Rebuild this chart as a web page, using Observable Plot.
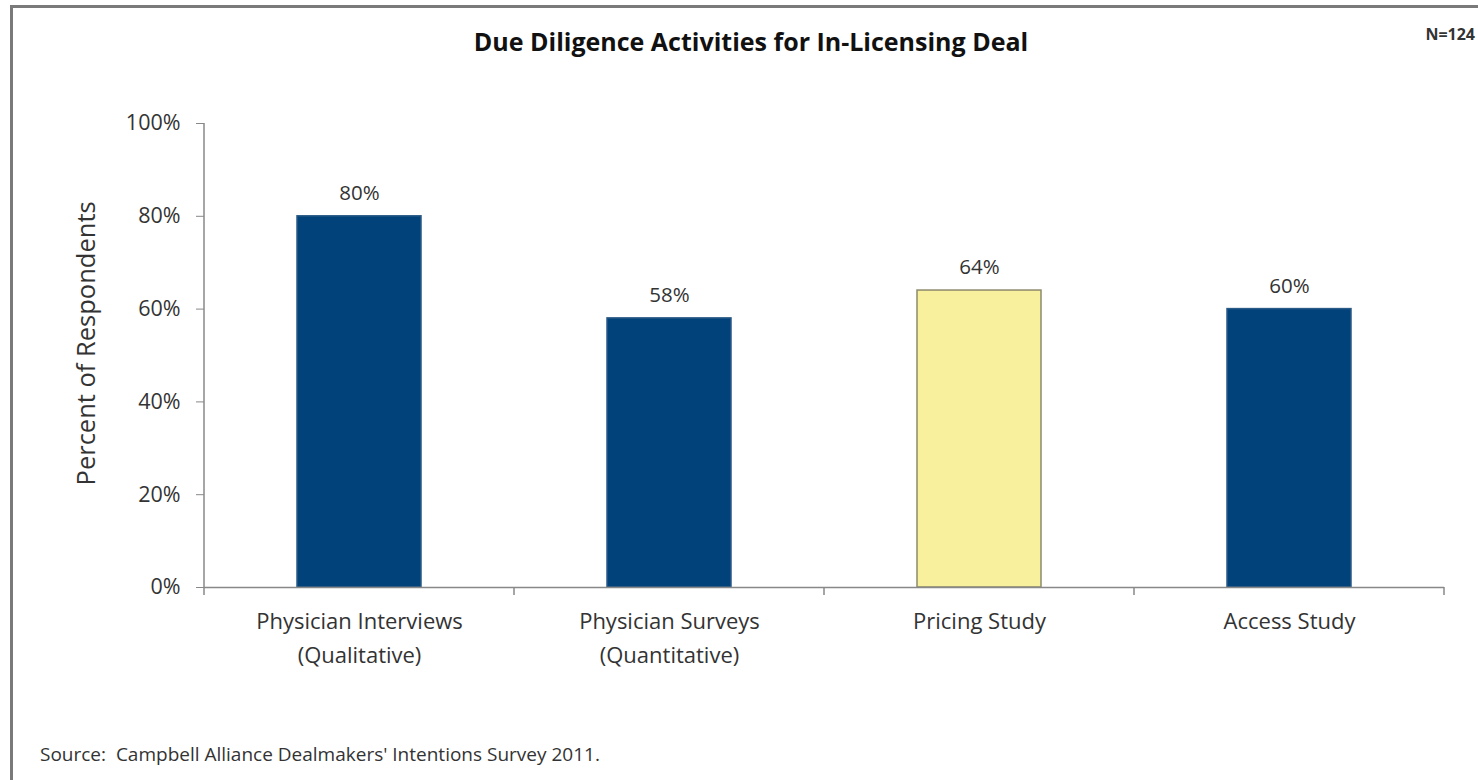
<!DOCTYPE html>
<html>
<head>
<meta charset="utf-8">
<script src="https://cdn.jsdelivr.net/npm/d3@7"></script>
<script src="https://cdn.jsdelivr.net/npm/@observablehq/plot@0.6"></script>
<style>
  html, body { margin: 0; padding: 0; background: #fff; }
  #chart { position: relative; width: 1478px; height: 780px; overflow: hidden; }
  #frame { position: absolute; left: 10px; top: 5px; width: 1500px; height: 800px;
           border: 3px solid #7a7a7a; box-sizing: border-box; pointer-events: none; }
  svg { font-family: "Open Sans", sans-serif; }
</style>
</head>
<body>
<div id="chart"><div id="frame"></div></div>
<script>
// Survey results: share of respondents using each due diligence activity
const activities = [
  "Physician Interviews\n(Qualitative)",
  "Physician Surveys\n(Quantitative)",
  "Pricing Study",
  "Access Study"
];
const shares = [80, 58, 64, 60];
const barFills = ["#02427a", "#02427a", "#f8f09d", "#02427a"];
const barStrokes = ["#2a5a86", "#2a5a86", "#8c8a6c", "#2a5a86"];
const yTicks = [0, 20, 40, 60, 80, 100];

const title = "Due Diligence Activities for In-Licensing Deal";
const sampleNote = "N=124";
const source = "Source:  Campbell Alliance Dealmakers' Intentions Survey 2011.";

const rows = activities.map((a, i) => ({
  activity: a, share: shares[i], fill: barFills[i], stroke: barStrokes[i]
}));

const plot = Plot.plot({
  width: 1478,
  height: 780,
  marginLeft: 204,
  marginRight: 34,
  marginTop: 123,
  marginBottom: 193,
  style: { fontFamily: "'Open Sans', sans-serif", color: "#333", background: "transparent" },
  x: { domain: activities, paddingInner: 0.6, paddingOuter: 0.3, label: null },
  y: { domain: [0, 100], label: null },
  marks: [
    Plot.barY(rows, {
      x: "activity", y: "share",
      fill: "fill", stroke: "stroke", strokeWidth: 1.5
    }),
    Plot.text(rows, {
      x: "activity", y: "share", text: d => d.share + "%",
      dy: -23, fontSize: 20.5, fill: "#333"
    }),
    Plot.ruleY([0], { stroke: "#888", strokeWidth: 1.5 }),
    Plot.axisY({
      ticks: yTicks, tickFormat: d => d + "%", tickSize: 8, tickPadding: 16,
      fontSize: 21.5, stroke: "#888", fill: "#333", label: null
    }),
    Plot.axisX({
      tickSize: 0, tickPadding: 17, fontSize: 22, fill: "#333", label: null,
      lineHeight: 1.55
    })
  ]
});

const svg = d3.select(plot);
const xs = plot.scale("x");
const ys = plot.scale("y");
const step = xs.step;
const y0 = ys.apply(0);

// Category boundary ticks along the baseline
const bounds = activities.map(a => xs.apply(a) - step * xs.paddingInner / 2);
bounds.push(xs.apply(activities[activities.length - 1]) + xs.bandwidth + step * xs.paddingInner / 2);
svg.append("g").selectAll("line").data(bounds).join("line")
  .attr("x1", d => d).attr("x2", d => d)
  .attr("y1", y0).attr("y2", y0 + 8)
  .attr("stroke", "#888").attr("stroke-width", 1.5);

// Y axis line
svg.append("line")
  .attr("x1", bounds[0]).attr("x2", bounds[0])
  .attr("y1", ys.apply(100)).attr("y2", y0)
  .attr("stroke", "#888").attr("stroke-width", 1.5);

// Axis title, sitting a little above the middle of the axis
svg.append("text")
  .attr("transform", `translate(88,${ys.apply(52.5)}) rotate(-90)`)
  .attr("text-anchor", "middle")
  .attr("dominant-baseline", "middle")
  .attr("font-size", 25.5).attr("fill", "#333")
  .text("Percent of Respondents");

// Chart title
svg.append("text")
  .attr("x", 751).attr("y", 51)
  .attr("text-anchor", "middle")
  .attr("font-size", 25).attr("font-weight", "bold").attr("fill", "#111")
  .text(title);

// Sample size
svg.append("text")
  .attr("x", 1475).attr("y", 40)
  .attr("text-anchor", "end")
  .attr("font-size", 16).attr("font-weight", "bold").attr("fill", "#333")
  .text(sampleNote);

// Source note
svg.append("text")
  .attr("x", 40).attr("y", 761)
  .attr("text-anchor", "start")
  .attr("font-size", 19).attr("fill", "#333")
  .text(source);

document.getElementById("chart").prepend(plot);
</script>
</body>
</html>
